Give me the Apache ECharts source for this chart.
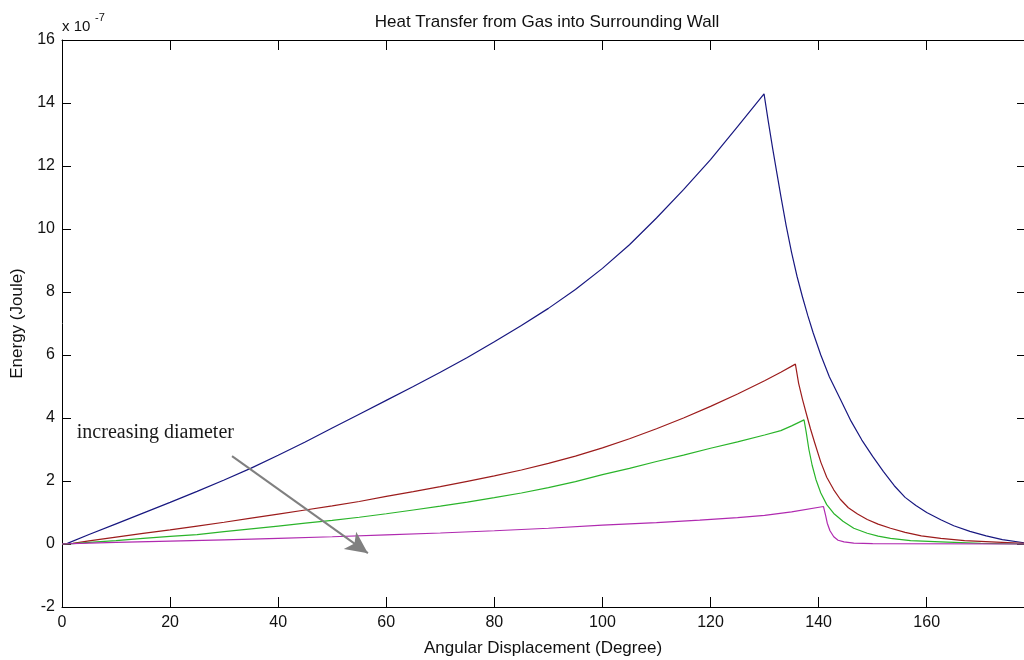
<!DOCTYPE html>
<html>
<head>
<meta charset="utf-8">
<script src="https://cdn.jsdelivr.net/npm/echarts@6/dist/echarts.min.js"></script>
<style>html,body{margin:0;padding:0;background:#fff;}#chart{width:1024px;height:660px;}</style>
</head>
<body>
<div id="chart"></div>
<script>
// x tick values (degrees) and y tick range (x 10^-7 J)
const xTicks = [0, 20, 40, 60, 80, 100, 120, 140, 160];
const yTicks = [-2, 0, 2, 4, 6, 8, 10, 12, 14, 16];

// Curve 1 (smallest diameter, blue)
const blueAngle  = [0, 1, 5, 10, 15, 20, 25, 30, 35, 40, 45, 50, 55, 60, 65, 70, 75, 80, 85, 90, 95, 100, 105, 110, 115, 120, 125, 129.9,
                    130.7, 131.5, 132.3, 133, 134, 135, 136, 137, 138, 139, 140.4, 142, 144, 146, 148, 150, 152, 154, 156, 158, 160, 162.6, 165, 168, 171, 174, 178];
const blueEnergy = [0, 0.02, 0.3, 0.64, 0.98, 1.32, 1.67, 2.03, 2.41, 2.82, 3.24, 3.68, 4.12, 4.56, 5.0, 5.45, 5.92, 6.42, 6.94, 7.48, 8.08, 8.75, 9.5, 10.35, 11.25, 12.2, 13.25, 14.29,
                    13.4, 12.55, 11.75, 11.05, 10.1, 9.25, 8.5, 7.85, 7.25, 6.7, 6.0, 5.3, 4.6, 3.9, 3.3, 2.78, 2.3, 1.85, 1.48, 1.22, 1.0, 0.77, 0.58, 0.4, 0.26, 0.14, 0.04];

// Curve 2 (red)
const redAngle  = [0, 2, 5, 10, 15, 20, 25, 30, 35, 40, 45, 50, 55, 60, 65, 70, 75, 80, 85, 90, 95, 100, 105, 110, 115, 120, 125, 130, 133, 135.7,
                   136.3, 137, 137.7, 138.5, 139.3, 140.4, 141.5, 142.8, 144, 145.5, 147.2, 149, 151, 153.3, 156, 159, 162.6, 167, 171.9, 178];
const redEnergy = [0, 0.02, 0.1, 0.22, 0.34, 0.45, 0.57, 0.69, 0.82, 0.95, 1.08, 1.21, 1.35, 1.51, 1.66, 1.82, 1.99, 2.16, 2.35, 2.56, 2.79, 3.05, 3.34, 3.66, 4.0, 4.37, 4.76, 5.18, 5.45, 5.71,
                   5.1, 4.6, 4.15, 3.65, 3.2, 2.6, 2.12, 1.72, 1.42, 1.15, 0.95, 0.78, 0.63, 0.5, 0.37, 0.26, 0.18, 0.11, 0.07, 0.02];

// Curve 3 (green)
const greenAngle  = [0, 2, 5, 10, 15, 20, 25, 30, 35, 40, 45, 50, 55, 60, 65, 70, 75, 80, 85, 90, 95, 100, 105, 110, 115, 120, 125, 130, 133, 135, 137.3,
                     137.7, 138.2, 138.8, 139.5, 140.4, 141.5, 142.8, 144.5, 146.5, 149, 151, 153.3, 157, 162.6, 170, 178];
const greenEnergy = [0, 0.01, 0.05, 0.11, 0.18, 0.24, 0.3, 0.39, 0.48, 0.57, 0.66, 0.75, 0.85, 0.96, 1.08, 1.2, 1.33, 1.47, 1.62, 1.79, 1.98, 2.2, 2.4, 2.62, 2.82, 3.04, 3.24, 3.46, 3.6, 3.75, 3.94,
                     3.55, 3.0, 2.5, 2.05, 1.62, 1.25, 0.97, 0.72, 0.5, 0.34, 0.25, 0.18, 0.11, 0.07, 0.02, 0];

// Curve 4 (largest diameter, magenta)
const magentaAngle  = [0, 5, 10, 20, 30, 40, 50, 60, 70, 80, 90, 100, 110, 118, 125, 130, 135, 140.9,
                       141.3, 141.6, 142.1, 142.8, 143.6, 144.7, 146.5, 150, 178];
const magentaEnergy = [0, 0.03, 0.05, 0.09, 0.13, 0.18, 0.23, 0.29, 0.35, 0.42, 0.5, 0.6, 0.68, 0.76, 0.84, 0.91, 1.02, 1.19,
                       0.9, 0.66, 0.42, 0.23, 0.12, 0.07, 0.03, 0.01, 0];

// Annotation
const noteText = 'increasing diameter';
const notePos = [2.0, 3.52];
const arrowStart = [31.46, 2.79];
const arrowEnd = [56.6, -0.29];

function pairs(xs, ys) { return xs.map((x, i) => [x, ys[i]]); }

const font = '"Liberation Sans", Arial, sans-serif';
const txt = '#111';

const chart = echarts.init(document.getElementById('chart'), null, {renderer: 'canvas'});

const lineBase = {
  type: 'line', showSymbol: false, symbol: 'none', smooth: false,
  xAxisIndex: 0, yAxisIndex: 0, animation: false, silent: true
};

const option = {
  animation: false,
  backgroundColor: '#fff',
  title: {
    text: 'Heat Transfer from Gas into Surrounding Wall',
    left: 542, top: 9, textAlign: 'center',
    textStyle: {fontFamily: font, fontSize: 17, fontWeight: 'normal', color: txt}
  },
  grid: {left: 62, top: 40, width: 962, height: 567, containLabel: false, outerBoundsMode: 'none'},
  xAxis: [
    {
      type: 'value', position: 'bottom', min: 0, max: 178, interval: 20,
      name: 'Angular Displacement (Degree)', nameLocation: 'middle', nameGap: 33,
      nameTextStyle: {fontFamily: font, fontSize: 17, color: txt},
      axisLine: {show: true, onZero: false, lineStyle: {color: '#000', width: 1}},
      axisTick: {show: true, inside: true, length: 10, lineStyle: {color: '#000'}},
      axisLabel: {fontFamily: font, fontSize: 16, color: txt, margin: 8,
        formatter: v => (xTicks.indexOf(v) >= 0 ? String(v) : '')},
      splitLine: {show: false}
    },
    {
      type: 'value', position: 'top', min: 0, max: 178, interval: 20,
      axisLine: {show: true, onZero: false, lineStyle: {color: '#000', width: 1}},
      axisTick: {show: true, inside: true, length: 10, lineStyle: {color: '#000'}},
      axisLabel: {show: false}, splitLine: {show: false}
    }
  ],
  yAxis: [
    {
      type: 'value', position: 'left', min: yTicks[0], max: yTicks[yTicks.length - 1], interval: 2,
      name: 'Energy (Joule)', nameLocation: 'middle', nameGap: 36, nameRotate: 90,
      nameTextStyle: {fontFamily: font, fontSize: 17, color: txt},
      axisLine: {show: true, onZero: false, lineStyle: {color: '#000', width: 1}},
      axisTick: {show: true, inside: true, length: 9, lineStyle: {color: '#000'}},
      axisLabel: {fontFamily: font, fontSize: 16, color: txt, margin: 7},
      splitLine: {show: false}
    },
    {
      type: 'value', position: 'right', min: yTicks[0], max: yTicks[yTicks.length - 1], interval: 2,
      axisLine: {show: true, onZero: false, lineStyle: {color: '#000', width: 1}},
      axisTick: {show: true, inside: true, length: 7, lineStyle: {color: '#000'}},
      axisLabel: {show: false}, splitLine: {show: false}
    }
  ],
  graphic: [
    {type: 'text', left: 62, top: 19, silent: true,
     style: {text: 'x 10', fontFamily: font, fontSize: 15, fill: txt}},
    {type: 'text', left: 95, top: 12, silent: true,
     style: {text: '-7', fontFamily: font, fontSize: 11, fill: txt}}
  ],
  series: [
    Object.assign({}, lineBase, {
      name: 'd1', data: pairs(blueAngle, blueEnergy),
      lineStyle: {color: '#181880', width: 1.2},
      markPoint: {
        symbol: 'circle', symbolSize: 0, silent: true, animation: false,
        data: [{coord: notePos, value: 0}],
        label: {show: true, position: 'right', distance: 4, formatter: noteText,
          fontFamily: '"Liberation Serif", "Times New Roman", serif', fontSize: 20, color: '#1a1a1a'}
      }
    }),
    Object.assign({}, lineBase, {
      name: 'd2', data: pairs(redAngle, redEnergy),
      lineStyle: {color: '#9c1c1c', width: 1.2}
    }),
    Object.assign({}, lineBase, {
      name: 'd3', data: pairs(greenAngle, greenEnergy),
      lineStyle: {color: '#2ab42a', width: 1.2}
    }),
    Object.assign({}, lineBase, {
      name: 'd4', data: pairs(magentaAngle, magentaEnergy),
      lineStyle: {color: '#b02ab0', width: 1.2},
      markLine: {
        silent: true, animation: false,
        symbol: ['none', 'arrow'], symbolSize: [16, 22],
        lineStyle: {color: '#808080', width: 2, type: 'solid'},
        label: {show: false},
        data: [[{coord: arrowStart}, {coord: arrowEnd}]]
      }
    })
  ]
};

chart.setOption(option);
</script>
</body>
</html>
